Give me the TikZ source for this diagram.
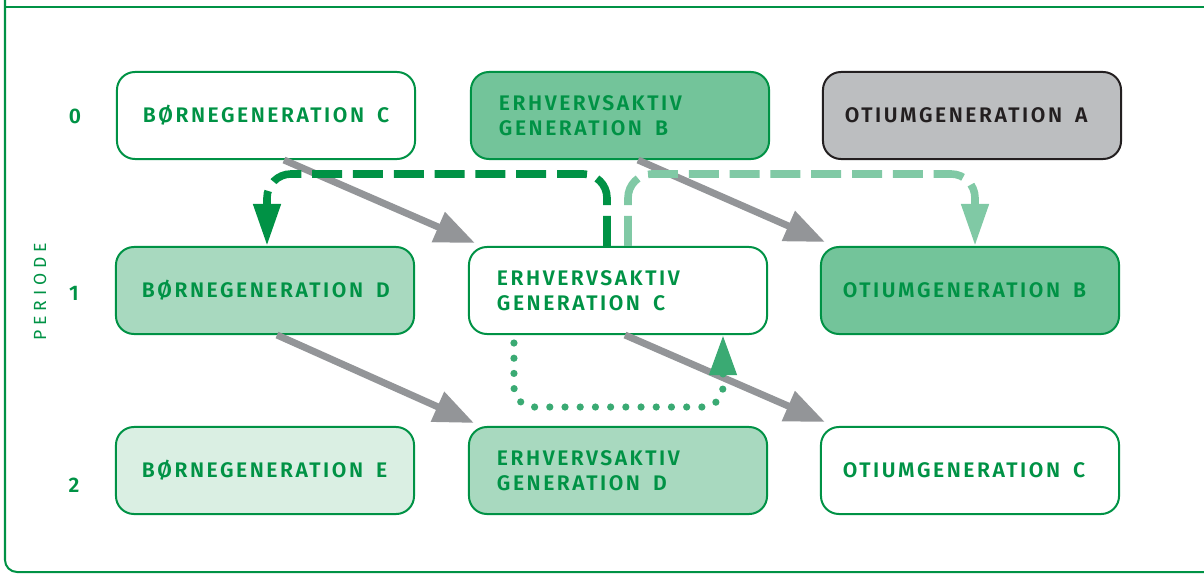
\documentclass[tikz,border=0pt]{standalone}
\usepackage{fontspec}
\setmainfont{Fira Sans}
\newfontfamily\boxfont[LetterSpace=12]{Fira Sans SemiBold}
\newfontfamily\periodfont[LetterSpace=28]{Fira Sans}
\usetikzlibrary{arrows.meta,calc}
\definecolor{dkgreen}{HTML}{009245}
\definecolor{midfill}{HTML}{73C49A}
\definecolor{lightfill}{HTML}{A8D9BF}
\definecolor{palefill}{HTML}{DAEFE3}
\definecolor{oldfill}{HTML}{BCBEC0}
\definecolor{olddraw}{HTML}{231F20}
\definecolor{arrowgray}{HTML}{939598}
\definecolor{lightdash}{HTML}{80C9A5}
\definecolor{dotgreen}{HTML}{3AAA73}
\newcommand\boxtype{\boxfont\fontsize{15}{17.7}\selectfont}
\newcommand\wgap{\nobreak\hspace{0.62em}\nobreak}
\tikzset{
  gen/.style={draw=dkgreen, line width=0.05cm, rounded corners=0.45cm,
    minimum height=2.175cm, text width=6.35cm, inner xsep=0.55cm,
    align=left, text=dkgreen, font=\boxtype},
  born/.style={gen, text width=6.15cm, inner xsep=0.65cm},
  work/.style={gen, text width=6.05cm, inner xsep=0.7cm},
  old/.style={gen},
  rowlabel/.style={text=dkgreen, font=\boxtype},
  frame/.style={draw=dkgreen, line width=0.05cm},
  passon/.style={draw=arrowgray, line width=0.175cm,
    -{Triangle[length=1cm, width=0.78cm]}},
  handdown/.style={line width=0.19cm, dash pattern=on 0.75cm off 0.27cm,
    rounded corners=0.6cm, -{Triangle[length=1.05cm, width=0.65cm]}},
  loopback/.style={draw=dotgreen, line width=0.18cm, line cap=round,
    dash pattern=on 0pt off 0.38cm, rounded corners=0.5cm,
    -{Triangle[length=1cm, width=0.65cm]}}
}
\begin{document}
\begin{tikzpicture}[x=0.025cm, y=-0.025cm]
  \clip (0,0) rectangle (1204,573);

  % Drawing frame
  \draw [frame, rounded corners=0.3cm] (5,-30) -- (5,572) -- (1240,572);
  \draw [frame] (5,7) -- (1240,7);

  % Marking periods
  \node [rotate=90, text=dkgreen, font=\periodfont\fontsize{12.5}{14}\selectfont] (periode) at (40,292) {PERIODE};
  \node [rowlabel] (p0) at (75,116) {0};
  \node [rowlabel] (p1) at (74,293) {1};
  \node [rowlabel] (p2) at (74,485) {2};

  % Drawing boxes of period 0
  \node [born] (bC) at (266,115.5) {BØRNEGENERATION\wgap C};
  \node [work, fill=midfill] (eB) at (620,115.5) {ERHVERVSAKTIV\\GENERATION\wgap B};
  \node [old, fill=oldfill, draw=olddraw, text=olddraw] (oA) at (972,115.5) {OTIUMGENERATION\wgap A};

  % Drawing boxes of period 1
  \node [born, fill=lightfill] (bD) at (265,290.5) {BØRNEGENERATION\wgap D};
  \node [work] (eC) at (618,290.5) {ERHVERVSAKTIV\\GENERATION\wgap C};
  \node [old, fill=midfill] (oB) at (970,290.5) {OTIUMGENERATION\wgap B};

  % Drawing boxes of period 2
  \node [born, fill=palefill] (bE) at (265,470.5) {BØRNEGENERATION\wgap E};
  \node [work, fill=lightfill] (eD) at (618,470.5) {ERHVERVSAKTIV\\GENERATION\wgap D};
  \node [old] (oC) at (970,470.5) {OTIUMGENERATION\wgap C};

  % Drawing arrows from period 0 to period 1
  \draw [passon] ($(bC.south)+(18,0)$) -- ($(eC.north west)+(7,-3)$);
  \draw [passon] ($(eB.south)+(18,0)$) -- ($(oB.north west)+(5,-4)$);

  % Drawing arrows from period 1 to period 2
  \draw [passon] ($(bD.south)+(12,0)$) -- ($(eD.north west)+(6,-3)$);
  \draw [passon] ($(eC.south)+(7,0)$) -- ($(oC.north west)+(5,-4)$);

  % Drawing transfer from working C to children D
  \draw [handdown, draw=dkgreen] ($(eC.north)+(-11,0)$) -- ++(0,-72) -| ($(bD.north)+(2,0)$);

  % Drawing transfer from working C to pensioners B
  \draw [handdown, draw=lightdash] ($(eC.north)+(10,0)$) -- ++(0,-72) -| ($(oB.north)+(5,0)$);

  % Drawing return from working C to working C
  \draw [loopback] ($(eC.south west)+(46,8)$) -- ++(0,64) -| ($(eC.south)+(105,0)$);
\end{tikzpicture}
\end{document}
